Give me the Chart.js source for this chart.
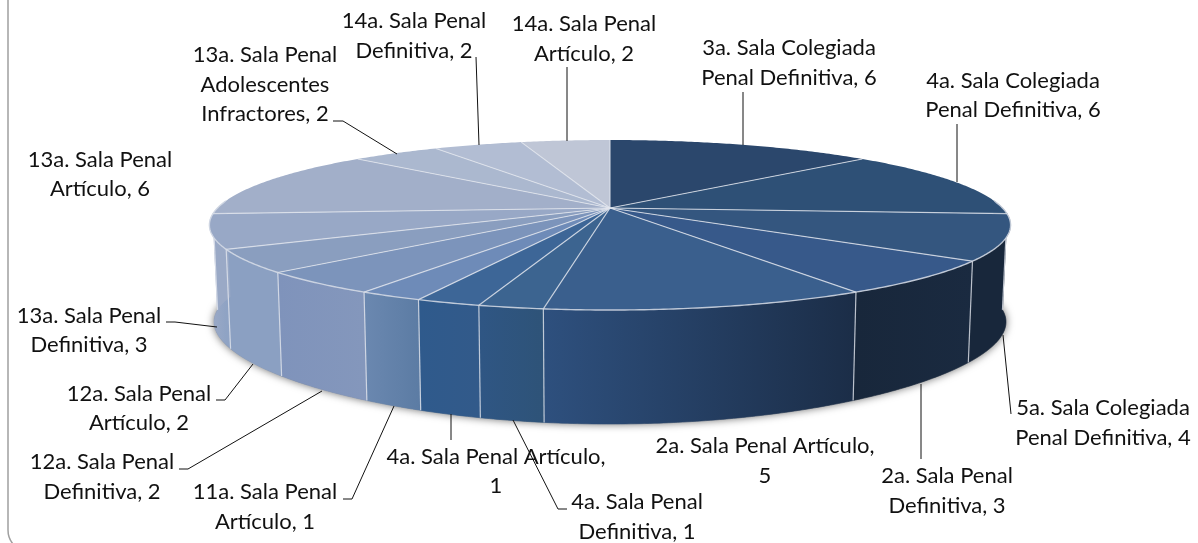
<!DOCTYPE html>
<html>
<head>
<meta charset="utf-8">
<style>
  html, body { margin: 0; padding: 0; background: #fff; }
  canvas { display: block; }
</style>
<script src="https://cdn.jsdelivr.net/npm/chart.js@4"></script>
</head>
<body>
<canvas id="pie3d" width="1198" height="543"></canvas>
<script>
// datos del grafico, en sentido horario desde las 12
const categories = [
  '3a. Sala Colegiada Penal Definitiva', '4a. Sala Colegiada Penal Definitiva',
  '5a. Sala Colegiada Penal Definitiva', '2a. Sala Penal Definitiva',
  '2a. Sala Penal Artículo', '4a. Sala Penal Definitiva', '4a. Sala Penal Artículo',
  '11a. Sala Penal Artículo', '12a. Sala Penal Definitiva', '12a. Sala Penal Artículo',
  '13a. Sala Penal Definitiva', '13a. Sala Penal Artículo',
  '13a. Sala Penal Adolescentes Infractores', '14a. Sala Penal Definitiva', '14a. Sala Penal Artículo'
];
const values = [6, 6, 4, 3, 5, 1, 1, 1, 2, 2, 3, 6, 2, 2, 2];

// estilos
const topColors = ['#2b476c', '#2e5076', '#34567f', '#37598a', '#3a5f8d', '#3c6490', '#3d6697',
  '#6e8bb8', '#7c94bb', '#8a9ebf', '#98a8c6', '#a2afc9', '#abb8cf', '#b2bdd3', '#bfc6d6'];
const wallColors = [
  ['#18273b', '#18273b'], ['#18273b', '#18273b'], ['#18273b', '#18273b'], ['#18273b', '#1a2a40'],
  ['#2e507e', '#1b2d47'], ['#2f5684', '#2e5378'], ['#2f5a8c', '#325a8a'],
  ['#6b88b0', '#5c7ca4'], ['#7f93bb', '#8497bc'], ['#8ba0c2', '#8ba0c2'], ['#9aa9c6', '#8fa3c4'],
  ['#9aa9c6', '#9aa9c6'], ['#abb8cf', '#abb8cf'], ['#b2bdd3', '#b2bdd3'], ['#bfc6d6', '#bfc6d6']
];
const seamColor = 'rgba(226,230,238,0.8)';

// posicion de las etiquetas: centro x, primera linea base, cortes de linea en palabras
const labelX = [789, 1013, 1103, 947, 765, 637, 496, 265, 102, 139, 89, 100, 265, 414, 584];
const labelY = [55, 88, 415, 483, 453, 509, 464, 499, 469, 401, 323, 167, 62, 28, 31];
const labelWrap = [[3], [3], [3], [3], [4], [3], [4], [3], [3], [3], [3], [3], [3, 4], [3], [3]];
const lineHeight = [30, 29, 30, 30, 30, 30, 29, 30, 30, 29, 29, 29, 29.5, 30, 30];

// lineas guia
const leaders = [
  [[743, 92], [743, 145]], [[957, 124], [957, 182]], [[1011, 414], [1003, 335]],
  [[921, 459], [921, 384]], null, [[567, 509], [558, 509], [513, 420]], [[451, 440], [451, 414]],
  [[343, 499], [352, 499], [394, 406]], [[179, 469], [188, 469], [322, 391]],
  [[216, 400], [225, 400], [253, 364]], [[166, 322], [175, 322], [217, 327]], null,
  [[333, 121], [343, 121], [397, 154]], [[476, 57], [479, 145]], [[567, 67], [567, 141]]
];

// proyeccion en perspectiva del disco
const cx = 610, cy = 208;
const topRing = { r: 392.5, h: 81.6, y: cy, kx: 0.2, ky: 0.2 };
const baseRing = { r: 388, h: 84, y: 304, kx: 0.2, ky: 0.3 };
function project(ring, theta) {
  const c = Math.cos(theta);
  return [cx + ring.r * Math.sin(theta) / (1 + ring.kx * c), ring.y - ring.h * c / (1 + ring.ky * c)];
}
function arcPoints(ring, a, b) {
  const n = Math.max(2, Math.ceil(Math.abs(b - a) / 0.01));
  const pts = [];
  for (let i = 0; i <= n; i++) pts.push(project(ring, a + (b - a) * i / n));
  return pts;
}
function trace(ctx, pts) {
  pts.forEach((p, i) => i ? ctx.lineTo(p[0], p[1]) : ctx.moveTo(p[0], p[1]));
}

const wallFrom = 85 * Math.PI / 180, wallTo = 275 * Math.PI / 180;

const pie3d = {
  id: 'pie3d',
  beforeDatasetsDraw(chart) {
    const ctx = chart.ctx;
    const arcs = chart.getDatasetMeta(0).data;
    // angulos calculados por Chart.js, 0 = las 12
    const slices = arcs.map((arc, i) => ({
      i,
      a: arc.startAngle + Math.PI / 2,
      b: arc.endAngle + Math.PI / 2
    }));

    // sombra
    ctx.save();
    ctx.shadowColor = 'rgba(0,0,0,0.6)';
    ctx.shadowBlur = 9;
    ctx.fillStyle = '#888';
    ctx.beginPath();
    trace(ctx, arcPoints(baseRing, wallFrom, wallTo));
    ctx.closePath();
    ctx.fill();
    ctx.restore();

    // paredes
    const walls = slices
      .map(s => ({ i: s.i, a: Math.max(s.a, wallFrom), b: Math.min(s.b, wallTo) }))
      .filter(s => s.b > s.a);
    walls.forEach(s => {
      const top = arcPoints(topRing, s.a, s.b);
      const base = arcPoints(baseRing, s.b, s.a);
      const x0 = Math.min(top[0][0], top[top.length - 1][0]);
      const x1 = Math.max(top[0][0], top[top.length - 1][0]);
      const grad = ctx.createLinearGradient(x0, 0, x1, 0);
      grad.addColorStop(0, wallColors[s.i][0]);
      grad.addColorStop(1, wallColors[s.i][1]);
      ctx.fillStyle = grad;
      ctx.beginPath();
      trace(ctx, top.concat(base));
      ctx.closePath();
      ctx.fill();
      ctx.strokeStyle = grad;
      ctx.lineWidth = 0.6;
      ctx.stroke();
    });
    // juntas verticales
    ctx.strokeStyle = seamColor;
    ctx.lineWidth = 1.2;
    walls.forEach(s => {
      if (s.a <= wallFrom) return;
      ctx.beginPath();
      trace(ctx, [project(topRing, s.a), project(baseRing, s.a)]);
      ctx.stroke();
    });

    // cara superior
    slices.forEach(s => {
      ctx.fillStyle = topColors[s.i];
      ctx.beginPath();
      ctx.moveTo(cx, cy);
      arcPoints(topRing, s.a, s.b).forEach(p => ctx.lineTo(p[0], p[1]));
      ctx.closePath();
      ctx.fill();
    });
    slices.forEach(s => {
      ctx.strokeStyle = seamColor;
      ctx.lineWidth = 1.2;
      ctx.beginPath();
      trace(ctx, [[cx, cy], project(topRing, s.a)]);
      ctx.stroke();
    });
    // borde delantero
    ctx.strokeStyle = 'rgba(214,220,230,0.85)';
    ctx.lineWidth = 1.4;
    ctx.beginPath();
    trace(ctx, arcPoints(topRing, wallFrom, wallTo));
    ctx.stroke();
    return false;
  },
  afterDraw(chart) {
    const ctx = chart.ctx;
    ctx.save();
    // marco
    ctx.strokeStyle = '#a0a0a0';
    ctx.lineWidth = 1.5;
    ctx.beginPath();
    ctx.moveTo(8, 0);
    ctx.lineTo(8, 530);
    ctx.quadraticCurveTo(8, 538, 13, 544);
    ctx.stroke();

    // lineas guia
    ctx.strokeStyle = '#111';
    ctx.lineWidth = 1;
    leaders.forEach(l => {
      if (!l) return;
      ctx.beginPath();
      trace(ctx, l);
      ctx.stroke();
    });

    // etiquetas
    ctx.font = '22px Lato, "Open Sans", sans-serif';
    ctx.fillStyle = '#111';
    ctx.textAlign = 'center';
    ctx.textBaseline = 'alphabetic';
    categories.forEach((cat, i) => {
      const words = (cat + ', ' + values[i]).split(' ');
      const cuts = [0, ...labelWrap[i], words.length];
      for (let l = 0; l < cuts.length - 1; l++) {
        ctx.fillText(words.slice(cuts[l], cuts[l + 1]).join(' '), labelX[i], labelY[i] + l * lineHeight[i]);
      }
    });
    ctx.restore();
  }
};

new Chart(document.getElementById('pie3d'), {
  type: 'pie',
  data: {
    labels: categories,
    datasets: [{ data: values, backgroundColor: topColors, borderWidth: 0 }]
  },
  options: {
    responsive: false,
    animation: false,
    plugins: { legend: { display: false }, tooltip: { enabled: false } }
  },
  plugins: [pie3d]
});
</script>
</body>
</html>
